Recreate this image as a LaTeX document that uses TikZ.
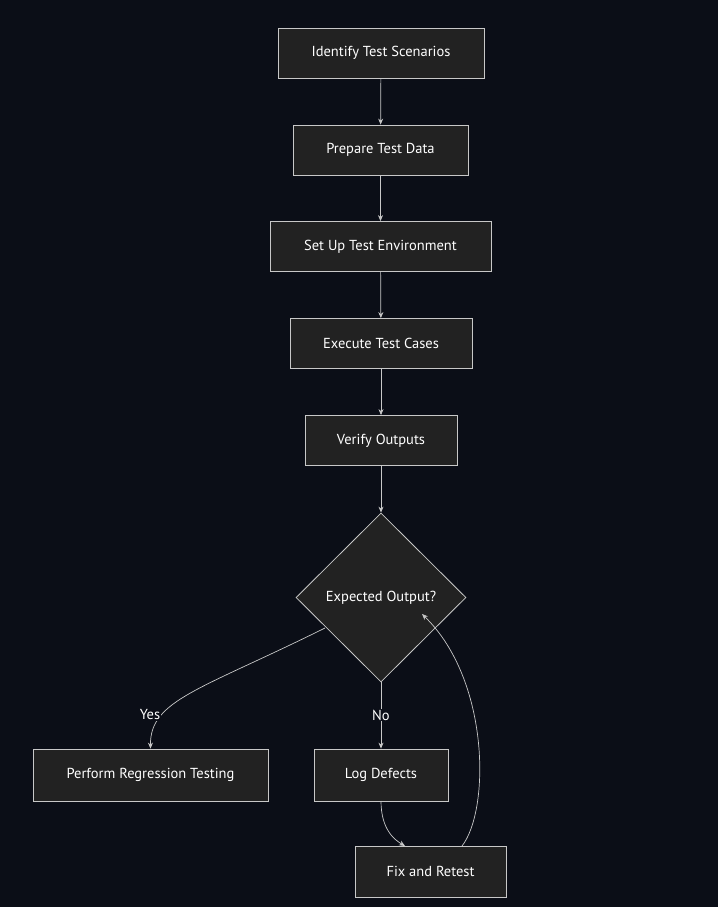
\documentclass[tikz,border=0pt]{standalone}
\usepackage{fontspec}
\setmainfont{PT Sans}
\usetikzlibrary{shapes.geometric,arrows.meta,patterns}
\definecolor{bg}{HTML}{0B0E17}
\definecolor{nodefill}{HTML}{222222}
\definecolor{edge}{HTML}{C8C8C8}
\begin{document}
\begin{tikzpicture}[x=1pt,y=-1pt,
  box/.style={draw=edge,fill=nodefill,line width=0.8pt,minimum height=50pt,inner sep=0pt,text=white,font=\fontsize{14.5}{16}\selectfont},
  dec/.style={draw=edge,fill=nodefill,line width=0.8pt,diamond,minimum width=170pt,minimum height=169pt,inner sep=0pt,text=white,font=\fontsize{14.5}{16}\selectfont},
  conn/.style={draw=edge,line width=0.7pt,-{Stealth[length=6pt,width=5pt]}},
  lbl/.style={text=white,fill=bg,font=\fontsize{14.5}{16}\selectfont,inner sep=1pt}]
\fill[bg] (0,0) rectangle (718,907);
\useasboundingbox (0,0) rectangle (718,907);
\node[box,minimum width=206pt] (a) at (381,53) {Identify Test Scenarios};
\node[box,minimum width=175pt] (b) at (380.5,150) {Prepare Test Data};
\node[box,minimum width=221pt] (c) at (380.5,246.5) {Set Up Test Environment};
\node[box,minimum width=182pt] (d) at (381,343.5) {Execute Test Cases};
\node[box,minimum width=152pt] (e) at (381,440.5) {Verify Outputs};
\node[dec] (f) at (381,597.5) {Expected Output?};
\node[box,minimum width=235pt,minimum height=52pt] (g) at (150.5,775) {Perform Regression Testing};
\node[box,minimum width=134pt,minimum height=52pt] (h) at (381,775) {Log Defects};
\node[box,minimum width=151pt,minimum height=51pt] (i) at (430.5,871.5) {Fix and Retest};
\draw[conn] (a) -- (b);
\draw[conn] (b) -- (c);
\draw[conn] (c) -- (d);
\draw[conn] (d) -- (e);
\draw[conn] (e) -- (f);
\coordinate (fy) at (325,628);
\draw[conn] (fy) .. controls (200,690) and (150,700) .. (g.north);
\node[lbl] at (150,715) {Yes};
\draw[conn] (f.south) -- (h.north);
\node[lbl] at (381,715) {No};
\coordinate (ht) at (381,801);
\coordinate (ft) at (405,846);
\draw[conn] (ht) .. controls (381,830) and (395,840) .. (ft);
\coordinate (it) at (462,846);
\coordinate (fr) at (422,614);
\draw[conn] (it) .. controls (490,810) and (490,680) .. (fr);
\end{tikzpicture}
\end{document}
